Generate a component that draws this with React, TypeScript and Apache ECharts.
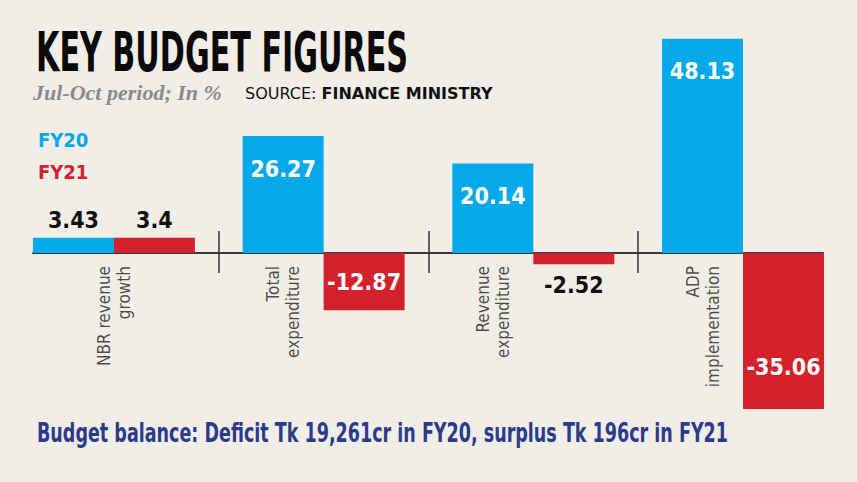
import React, { useEffect, useRef } from 'react';
import * as echarts from 'echarts';

const categories = ['NBR revenue\ngrowth', 'Total\nexpenditure', 'Revenue\nexpenditure', 'ADP\nimplementation'];
const fy20 = [3.43, 26.27, 20.14, 48.13];
const fy21 = [3.4, -12.87, -2.52, -35.06];
const seriesNames = ['FY20', 'FY21'];
const titleText = 'KEY BUDGET FIGURES';
const subtitleText = 'Jul-Oct period; In %';
const sourceLabel = 'SOURCE: ';
const sourceName = 'FINANCE MINISTRY';
const footerText = 'Budget balance: Deficit Tk 19,261cr in FY20, surplus Tk 196cr in FY21';

const BLUE = '#05a8e8';
const RED = '#d3222c';
const BG = '#f1eee8';
const COND = '"Liberation Sans Narrow", "DejaVu Sans Condensed", sans-serif';

export default function App() {
  const ref = useRef<HTMLDivElement>(null);
  useEffect(() => {
    const chart = echarts.init(ref.current!, null, { renderer: 'svg' });
    const xMin = -0.386;
    const xMax = 3.3815;
    const gridLeft = 33;
    const gridRight = 34;
    const pxPerUnit = (857 - gridLeft - gridRight) / (xMax - xMin);
    const barWidth = 81;
    const halfBar = barWidth / 2 / pxPerUnit;
    const labelPoints = categories.map((_, i) => [fy21[i] < 0 ? i - halfBar : i, 0, i]);
    const dividers = categories.slice(1).map((_, i) => i + 0.5);

    const fmt = (p: any) => String(p.value[1]);
    const labelFont = { fontFamily: COND, fontWeight: 'bold', fontSize: 23 };

    const fy20Data = fy20.map((v, i) => {
      const big = Math.abs(v) > 10;
      return {
        value: [i, v],
        label: {
          position: big ? 'insideTop' : 'top',
          distance: big ? 21 : 6,
          color: big ? '#ffffff' : '#111111',
        },
      };
    });
    const fy21Data = fy21.map((v, i) => {
      const big = Math.abs(v) > 10;
      const huge = Math.abs(v) > 20;
      let position = 'top';
      let distance = 6;
      if (v < 0) {
        if (huge) { position = 'insideBottom'; distance = 31; }
        else if (big) { position = 'inside'; distance = 0; }
        else { position = 'bottom'; distance = 9; }
      }
      return {
        value: [i, v],
        label: { position, distance, color: big ? '#ffffff' : '#111111' },
      };
    });

    const xBase = {
      type: 'value',
      min: xMin,
      max: xMax,
      splitLine: { show: false },
      axisLabel: { show: false },
    };

    chart.setOption({
      animation: false,
      backgroundColor: BG,
      grid: { left: gridLeft, right: gridRight, top: 30.5, bottom: 51, containLabel: false, outerBoundsMode: 'none' },
      legend: {
        orient: 'vertical',
        left: 28,
        top: 124,
        icon: 'none',
        itemWidth: 0,
        itemHeight: 21,
        itemGap: 12,
        selectedMode: false,
        textStyle: { fontFamily: COND, fontWeight: 'bold', fontSize: 20 },
        data: [
          { name: seriesNames[0], textStyle: { color: BLUE } },
          { name: seriesNames[1], textStyle: { color: RED } },
        ],
      },
      xAxis: [
        {
          ...xBase,
          position: 'bottom',
          axisLine: { show: true, onZero: true, onZeroAxisIndex: 0, lineStyle: { color: '#3a3a3a', width: 2 } },
          axisTick: { show: true, customValues: dividers, length: 20, lineStyle: { color: '#333', width: 1.5 } },
        },
        {
          ...xBase,
          position: 'top',
          axisLine: { show: false, onZero: true, onZeroAxisIndex: 0 },
          axisTick: { show: true, customValues: dividers, length: 22, lineStyle: { color: '#333', width: 1.5 } },
        },
      ],
      yAxis: {
        type: 'value',
        min: -40,
        max: 50,
        show: false,
        splitLine: { show: false },
      },
      series: [
        {
          name: seriesNames[0],
          type: 'bar',
          xAxisIndex: 0,
          barWidth,
          barGap: '0%',
          itemStyle: { color: BLUE },
          label: { show: true, formatter: fmt, ...labelFont },
          data: fy20Data,
        },
        {
          name: seriesNames[1],
          type: 'bar',
          xAxisIndex: 0,
          barWidth,
          barGap: '0%',
          itemStyle: { color: RED },
          label: { show: true, formatter: fmt, ...labelFont },
          data: fy21Data,
        },
        {
          name: 'categories',
          type: 'scatter',
          xAxisIndex: 0,
          symbolSize: 0,
          silent: true,
          z: 10,
          label: {
            show: true,
            position: 'bottom',
            distance: 13,
            rotate: 90,
            align: 'right',
            verticalAlign: 'middle',
            fontFamily: COND,
            fontSize: 17,
            lineHeight: 20,
            color: '#1e1e1e',
            formatter: (p: any) => categories[p.value[2]],
          },
          data: labelPoints,
        },
      ],
      graphic: [
        {
          type: 'text',
          x: 36,
          y: 52,
          scaleX: 0.61,
          style: {
            text: titleText,
            font: `bold 55px ${COND}`,
            fill: '#0a0a0a',
            textVerticalAlign: 'middle',
          },
        },
        {
          type: 'text',
          x: 33,
          y: 92,
          style: {
            text: subtitleText,
            font: 'italic bold 22px "Liberation Serif", "DejaVu Serif", serif',
            fill: '#8a8a8a',
            textVerticalAlign: 'middle',
          },
        },
        {
          type: 'text',
          x: 245,
          y: 93,
          style: {
            text: `{a|${sourceLabel}}{b|${sourceName}}`,
            textVerticalAlign: 'middle',
            rich: {
              a: { fontFamily: '"DejaVu Sans", sans-serif', fontSize: 16, fill: '#111', color: '#111' },
              b: { fontFamily: '"DejaVu Sans", sans-serif', fontSize: 16, fontWeight: 'bold', fill: '#111', color: '#111' },
            },
          },
        },
        {
          type: 'text',
          x: 37,
          y: 433,
          scaleX: 0.75,
          style: {
            text: footerText,
            font: `bold 26px ${COND}`,
            fill: '#2b3b8c',
            textVerticalAlign: 'middle',
          },
        },
      ],
    });
    return () => chart.dispose();
  }, []);
  return <div ref={ref} style={{ position: 'fixed', left: 0, top: 0, width: 857, height: 482 }} />;
}
